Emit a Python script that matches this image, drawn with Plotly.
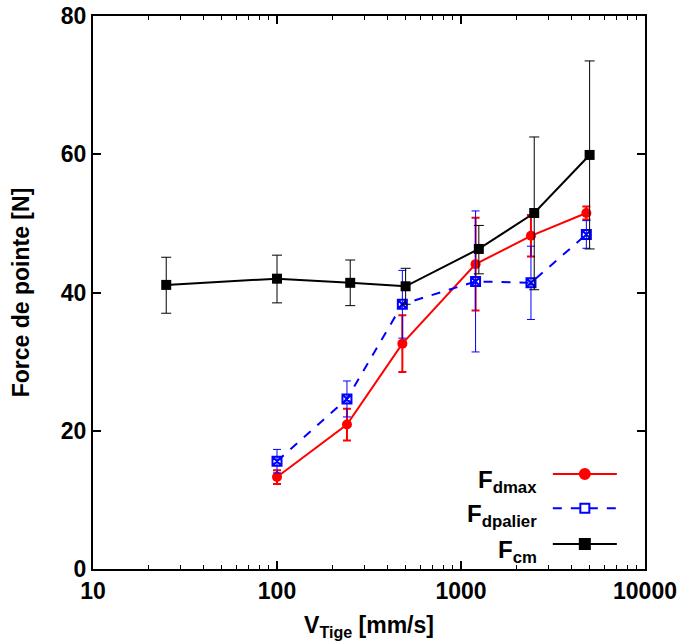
import plotly.graph_objects as go

# ---- data ----
x_cm = [25, 100, 250, 500, 1250, 2500, 5000]
f_cm = [41.1, 42.0, 41.4, 40.9, 46.3, 51.5, 59.9]
f_cm_plus = [4.0, 3.4, 3.3, 2.6, 3.4, 11.0, 13.6]
f_cm_minus = [4.1, 3.5, 3.3, 2.6, 3.6, 11.1, 13.6]

x_d = [100, 240, 480, 1200, 2400, 4800]
f_dmax = [13.3, 20.9, 32.6, 44.1, 48.2, 51.5]
f_dmax_err = [1.0, 2.3, 4.1, 6.7, 3.0, 0.95]
f_dpalier = [15.6, 24.6, 38.3, 41.6, 41.4, 48.4]
f_dpalier_err = [1.7, 2.6, 4.9, 10.2, 5.3, 2.0]

x_ticks = [10, 100, 1000, 10000]
x_ticklabels = ["10", "100", "1000", "10000"]
x_minor = [m * d for d in (10, 100, 1000) for m in range(2, 10)]
y_ticks = [0, 20, 40, 60, 80]

legend_labels = ["F<sub>dmax</sub>", "F<sub>dpalier</sub>", "F<sub>cm</sub>"]

RED = "#ff0000"
BLUE = "#0000ff"
BLACK = "#000000"
FONT = "Liberation Sans, Arial, Helvetica, sans-serif"

fig = go.Figure()

fig.add_trace(go.Scatter(
    x=x_d, y=f_dmax, mode="lines+markers", showlegend=False,
    line=dict(color=RED, width=2),
    marker=dict(symbol="circle", size=10, color=RED),
    error_y=dict(type="data", array=f_dmax_err, color=RED, thickness=2, width=4),
))
fig.add_trace(go.Scatter(
    x=x_d, y=f_dpalier, mode="lines+markers", showlegend=False,
    line=dict(color=BLUE, width=2, dash="dash"),
    marker=dict(symbol="square-x-open", size=9, color=BLUE, line=dict(width=2, color=BLUE)),
    error_y=dict(type="data", array=f_dpalier_err, color=BLUE, thickness=1, width=4),
))
fig.add_trace(go.Scatter(
    x=x_cm, y=f_cm, mode="lines+markers", showlegend=False,
    line=dict(color=BLACK, width=2),
    marker=dict(symbol="square", size=10, color=BLACK),
    error_y=dict(type="data", array=f_cm_plus, arrayminus=f_cm_minus, color=BLACK, thickness=1, width=5),
))

# ---- manual legend (symbols to the right of the text) ----
leg_styles = [
    dict(color=RED, dash="solid", symbol="circle", size=10),
    dict(color=BLUE, dash="dash", symbol="square-open", size=9),
    dict(color=BLACK, dash="solid", symbol="square", size=10),
]
leg_y = [0.1718, 0.110, 0.0452]
for lbl, st, yy in zip(legend_labels, leg_styles, leg_y):
    fig.add_trace(go.Scatter(
        x=[0.833, 0.949], y=[yy, yy], mode="lines", showlegend=False,
        line=dict(color=st["color"], width=2, dash=st["dash"]),
        xaxis="x2", yaxis="y2", hoverinfo="skip",
    ))
    fig.add_trace(go.Scatter(
        x=[0.891], y=[yy], mode="markers", showlegend=False,
        marker=dict(symbol=st["symbol"], size=st["size"], color=st["color"],
                    line=dict(width=2, color=st["color"])),
        xaxis="x2", yaxis="y2", hoverinfo="skip",
    ))
    fig.add_annotation(
        x=0.808, y=yy - 0.014, xref="paper", yref="paper",
        text=lbl, showarrow=False, xanchor="right", yanchor="middle",
        font=dict(family=FONT, size=24, color="black", weight="bold"),
    )

axis_common = dict(
    showline=True, linecolor="black", linewidth=2, mirror="ticks",
    ticks="inside", ticklen=8, tickwidth=1.5, tickcolor="black",
    showgrid=False, zeroline=False, automargin=False,
    ticklabeloverflow="allow",
    tickfont=dict(family=FONT, size=23, color="black", weight="bold"),
)

fig.update_layout(
    width=679, height=643,
    margin=dict(l=93, r=34, t=16, b=74, autoexpand=False),
    paper_bgcolor="white", plot_bgcolor="white",
    showlegend=False,
    xaxis=dict(
        type="log", range=[1, 4], tickvals=x_ticks, ticktext=x_ticklabels,
        minor=dict(tickvals=x_minor, ticks="inside", ticklen=4, tickwidth=1,
                   tickcolor="black", showgrid=False),
        title=dict(text="V<sub>Tige</sub> [mm/s]", standoff=14,
                   font=dict(family=FONT, size=23, color="black", weight="bold")),
        **axis_common,
    ),
    yaxis=dict(
        range=[0, 80], tickvals=y_ticks,
        title=dict(text="Force de pointe [N]", standoff=25,
                   font=dict(family=FONT, size=23, color="black", weight="bold")),
        **axis_common,
    ),
    xaxis2=dict(domain=[0, 1], range=[0, 1], visible=False, anchor="y2", overlaying="x"),
    yaxis2=dict(domain=[0, 1], range=[0, 1], visible=False, anchor="x2", overlaying="y"),
)

fig.write_html(
    "out.html",
    config={"displayModeBar": False},
    post_script="document.body.style.margin='0';document.body.style.overflow='hidden';",
)
